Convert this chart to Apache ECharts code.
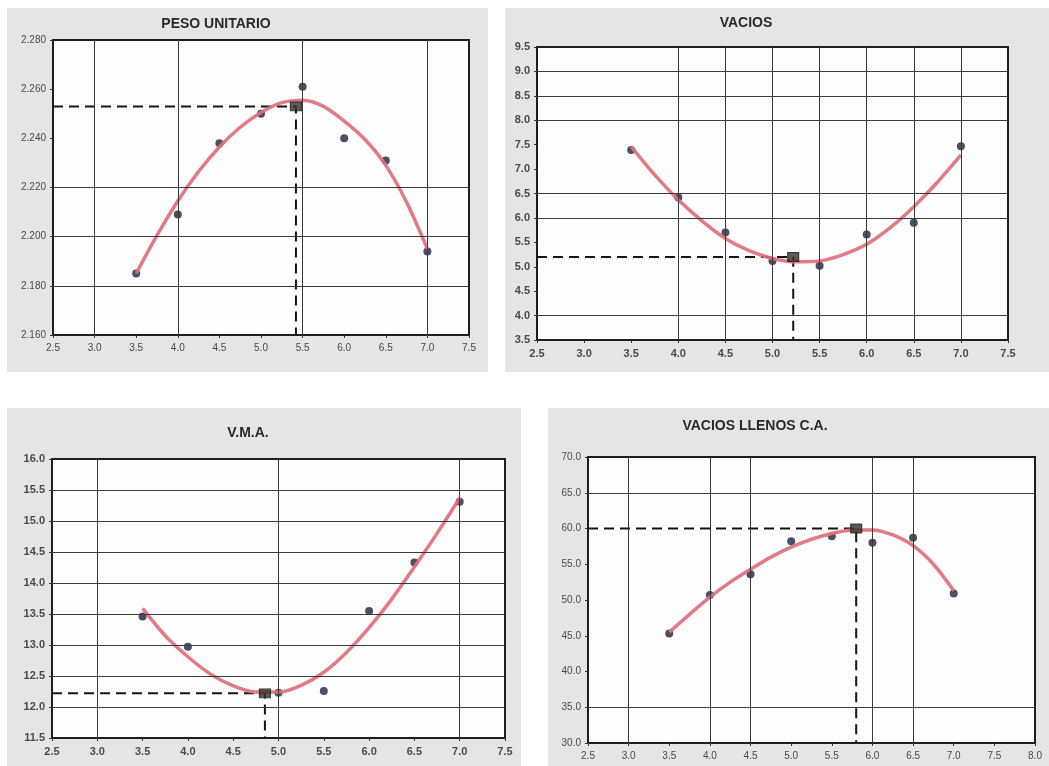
<!DOCTYPE html>
<html>
<head>
<meta charset="utf-8">
<script src="https://cdn.jsdelivr.net/npm/echarts@6/dist/echarts.min.js"></script>
<style>
  html, body { margin: 0; padding: 0; background: #ffffff; }
  #wrap { position: relative; width: 1049px; height: 766px; overflow: hidden; }
  .panel { position: absolute; background: #e5e5e5; }
  #chart { position: absolute; left: 0; top: 0; width: 1049px; height: 766px; }
</style>
</head>
<body>
<div id="wrap">
  <div class="panel" style="left:7px;top:8px;width:481px;height:364px"></div>
  <div class="panel" style="left:505px;top:8px;width:544px;height:364px"></div>
  <div class="panel" style="left:7px;top:408px;width:514px;height:358px"></div>
  <div class="panel" style="left:548px;top:408px;width:501px;height:358px"></div>
  <div id="chart"></div>
</div>
<script>
// Asphalt content (%) of the test specimens
const asfalto = [3.5, 4.0, 4.5, 5.0, 5.5, 6.0, 6.5, 7.0];
const asfaltoVma = [3.5, 4.0, 5.0, 5.5, 6.0, 6.5, 7.0];
// Abscissas where the fitted curves are sampled
const curvaX = [3.5, 3.75, 4.0, 4.25, 4.5, 4.75, 5.0, 5.25, 5.5, 5.75, 6.0, 6.25, 6.5, 6.75, 7.0];

// PESO UNITARIO
const pesoY = [2.185, 2.209, 2.238, 2.250, 2.261, 2.240, 2.231, 2.194];
const pesoCurvaY = [2.185, 2.2005, 2.2145, 2.2265, 2.2365, 2.2445, 2.2505, 2.2545, 2.2555, 2.2530, 2.2470, 2.2395, 2.2290, 2.2140, 2.195];
const pesoOptimo = [5.42, 2.253];

// VACIOS
const vaciosY = [7.39, 6.42, 5.70, 5.12, 5.02, 5.66, 5.90, 7.47];
const vaciosCurvaY = [7.46, 6.88, 6.37, 5.94, 5.58, 5.33, 5.17, 5.10, 5.12, 5.25, 5.46, 5.80, 6.23, 6.73, 7.29];
const vaciosOptimo = [5.22, 5.2];

// V.M.A.
const vmaY = [13.46, 12.97, 12.23, 12.26, 13.55, 14.33, 15.31];
const vmaCurvaY = [13.59, 13.15, 12.81, 12.53, 12.34, 12.24, 12.24, 12.35, 12.56, 12.88, 13.28, 13.74, 14.26, 14.80, 15.37];
const vmaOptimo = [4.85, 12.22];

// VACIOS LLENOS C.A.
const vllY = [45.3, 50.7, 53.6, 58.2, 58.9, 58.0, 58.7, 50.9];
const vllCurvaY = [45.5, 48.0, 50.4, 52.5, 54.3, 56.0, 57.4, 58.5, 59.3, 59.8, 59.8, 59.1, 57.6, 55.0, 51.3];
const vllOptimo = [5.8, 60.0];

// Axis ranges [min, max, interval]
const pesoEjeX = [2.5, 7.5, 0.5], pesoEjeY = [2.16, 2.28, 0.02];
const vaciosEjeX = [2.5, 7.5, 0.5], vaciosEjeY = [3.5, 9.5, 0.5];
const vmaEjeX = [2.5, 7.5, 0.5], vmaEjeY = [11.5, 16.0, 0.5];
const vllEjeX = [2.5, 8.0, 0.5], vllEjeY = [30, 70, 5];

// Printed grid lines of each sheet
const pesoRejX = [3.0, 4.0, 5.5, 7.0], pesoRejY = [2.18, 2.20, 2.22];
const vaciosRejX = [4.0, 4.5, 5.0, 5.5, 6.0, 6.5, 7.0], vaciosRejY = [4.0, 6.0, 6.5, 8.0, 8.5, 9.0];
const vmaRejX = [3.0, 5.0, 7.0], vmaRejY = [12.0, 12.5, 13.0, 13.5, 14.0, 14.5, 15.0, 15.5];
const vllRejX = [3.0, 4.0, 4.5, 6.0, 6.5], vllRejY = [35, 65];

const titulos = ['PESO UNITARIO', 'VACIOS', 'V.M.A.', 'VACIOS LLENOS C.A.'];

const paneles = [
  { x: asfalto, y: pesoY, cy: pesoCurvaY, opt: pesoOptimo, ex: pesoEjeX, ey: pesoEjeY, rx: pesoRejX, ry: pesoRejY, dec: 3, bold: false,
    grid: { left: 53, top: 40, width: 416, height: 295 }, title: { left: 211, top: 12 } },
  { x: asfalto, y: vaciosY, cy: vaciosCurvaY, opt: vaciosOptimo, ex: vaciosEjeX, ey: vaciosEjeY, rx: vaciosRejX, ry: vaciosRejY, dec: 1, bold: true,
    grid: { left: 537, top: 47, width: 471, height: 293 }, title: { left: 741, top: 11 } },
  { x: asfaltoVma, y: vmaY, cy: vmaCurvaY, opt: vmaOptimo, ex: vmaEjeX, ey: vmaEjeY, rx: vmaRejX, ry: vmaRejY, dec: 1, bold: true,
    grid: { left: 52, top: 459, width: 453, height: 279 }, title: { left: 243, top: 421 } },
  { x: asfalto, y: vllY, cy: vllCurvaY, opt: vllOptimo, ex: vllEjeX, ey: vllEjeY, rx: vllRejX, ry: vllRejY, dec: 1, bold: false,
    grid: { left: 588, top: 457, width: 447, height: 286 }, title: { left: 750, top: 414 } }
];

const fuente = 'Liberation Sans, Arial, sans-serif';
const option = { animation: false, title: [], grid: [], xAxis: [], yAxis: [], series: [] };

paneles.forEach((p, i) => {
  option.title.push({
    text: titulos[i], left: p.title.left, top: p.title.top, textAlign: 'center',
    textStyle: { fontFamily: fuente, fontWeight: 'bold', fontSize: 14, color: '#2a2a2a' }
  });
  option.grid.push(Object.assign({
    show: true, backgroundColor: '#fdfdfd', borderColor: '#1e1e1e', borderWidth: 2
  }, p.grid));
  const etiqueta = {
    fontFamily: fuente, fontSize: p.bold ? 11 : 10, color: '#4a4a4a', fontWeight: p.bold ? 'bold' : 'normal'
  };
  option.xAxis.push({
    type: 'value', gridIndex: i, min: p.ex[0], max: p.ex[1], interval: p.ex[2],
    axisLine: { show: false }, splitLine: { show: false },
    axisTick: { show: true, length: 3, lineStyle: { color: '#333' } },
    axisLabel: Object.assign({ margin: 8, formatter: v => v.toFixed(1) }, etiqueta)
  });
  option.yAxis.push({
    type: 'value', gridIndex: i, min: p.ey[0], max: p.ey[1], interval: p.ey[2],
    axisLine: { show: false }, splitLine: { show: false },
    axisTick: { show: true, length: 3, lineStyle: { color: '#333' } },
    axisLabel: Object.assign({ margin: 7, formatter: v => v.toFixed(p.dec) }, etiqueta)
  });
  // grid lines
  option.series.push({
    type: 'line', xAxisIndex: i, yAxisIndex: i, data: [], silent: true, z: 1,
    markLine: {
      silent: true, symbol: ['none', 'none'], label: { show: false },
      lineStyle: { color: '#3a3a3a', width: 1, type: 'solid' },
      data: p.rx.map(v => ({ xAxis: v })).concat(p.ry.map(v => ({ yAxis: v })))
    }
  });
  // dashed reading lines to the optimum
  option.series.push({
    type: 'line', xAxisIndex: i, yAxisIndex: i, symbol: 'none', silent: true, z: 2,
    lineStyle: { color: '#151515', width: 2, type: [10, 6] },
    data: [[p.ex[0], p.opt[1]], [p.opt[0], p.opt[1]], [p.opt[0], p.ey[0]]]
  });
  // test results
  option.series.push({
    type: 'scatter', xAxisIndex: i, yAxisIndex: i, symbol: 'circle', symbolSize: 8, z: 3,
    itemStyle: { color: '#1c2440' },
    data: p.x.map((v, k) => [v, p.y[k]])
  });
  // fitted curve
  option.series.push({
    type: 'line', xAxisIndex: i, yAxisIndex: i, symbol: 'none', smooth: 0.3, z: 4,
    lineStyle: { color: '#e06f7b', width: 3.5, opacity: 0.92 },
    data: curvaX.map((v, k) => [v, p.cy[k]])
  });
  // optimum
  option.series.push({
    type: 'scatter', xAxisIndex: i, yAxisIndex: i, symbol: 'rect', symbolSize: [11, 9], z: 5,
    itemStyle: { color: '#3a302c', borderColor: '#1a1a1a', borderWidth: 1 },
    data: [p.opt]
  });
});

const chart = echarts.init(document.getElementById('chart'), null, { renderer: 'canvas' });
chart.setOption(option);
</script>
</body>
</html>
